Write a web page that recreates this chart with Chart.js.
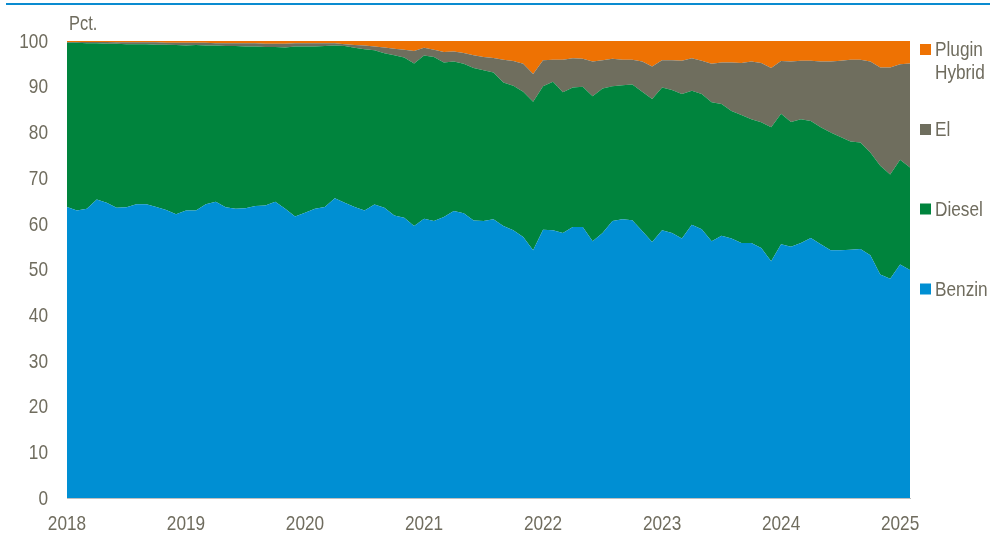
<!DOCTYPE html>
<html>
<head>
<meta charset="utf-8">
<script src="https://cdn.jsdelivr.net/npm/chart.js@4.4.1/dist/chart.umd.min.js"></script>
<style>
  html, body { margin: 0; padding: 0; background: #ffffff; }
  #wrap { position: relative; width: 990px; height: 534px; }
</style>
</head>
<body>
<div id="wrap"><canvas id="c"></canvas></div>
<script>
// ---- Data (monthly shares, pct.) ----
const startYear = 2018;
const monthCount = 86; // Jan 2018 .. Feb 2025
const yearLabels = ['2018', '2019', '2020', '2021', '2022', '2023', '2024', '2025'];
const yTickValues = [0, 10, 20, 30, 40, 50, 60, 70, 80, 90, 100];
const seriesNames = ['Benzin', 'Diesel', 'El', 'Plugin Hybrid'];

const benzin = [
  63.7, 62.9, 63.3, 65.3, 64.6, 63.5, 63.6, 64.3, 64.3, 63.7, 63.0, 62.1,
  62.9, 62.9, 64.3, 64.8, 63.6, 63.3, 63.4, 63.9, 64.0, 64.8, 63.3, 61.6,
  62.4, 63.3, 63.7, 65.6, 64.6, 63.7, 62.9, 64.2, 63.5, 61.8, 61.3, 59.5,
  61.1, 60.6, 61.5, 62.8, 62.3, 60.7, 60.6, 61.0, 59.5, 58.6, 57.1, 54.2,
  58.7, 58.6, 58.0, 59.3, 59.3, 56.2, 58.0, 60.6, 61.0, 60.8, 58.4, 56.0,
  58.6, 58.0, 56.8, 59.8, 58.8, 56.2, 57.4, 56.8, 55.8, 55.8, 54.7, 51.8,
  55.5, 55.0, 55.8, 56.9, 55.5, 54.2, 54.2, 54.3, 54.5, 53.1, 48.9, 48.0,
  51.1, 49.9
];
const diesel = [
  35.9, 36.7, 36.2, 34.2, 34.8, 35.9, 35.7, 35.0, 35.0, 35.5, 36.2, 37.0,
  36.1, 36.2, 34.7, 34.2, 35.3, 35.6, 35.4, 34.9, 34.7, 33.9, 35.3, 37.2,
  36.4, 35.5, 35.2, 33.4, 34.3, 34.8, 35.3, 33.8, 33.8, 35.1, 35.1, 35.6,
  35.7, 35.9, 33.8, 32.7, 32.7, 33.4, 33.0, 32.1, 31.4, 31.6, 31.8, 32.5,
  31.4, 32.5, 30.8, 30.5, 30.7, 31.7, 31.6, 29.5, 29.3, 29.7, 30.5, 31.3,
  31.2, 31.3, 31.6, 29.3, 29.6, 30.4, 28.8, 27.9, 28.0, 27.1, 27.5, 29.3,
  28.6, 27.3, 27.1, 25.6, 25.6, 25.8, 24.8, 23.7, 23.3, 22.5, 23.8, 22.8,
  22.9, 22.4
];
const el = [
  0.2, 0.2, 0.3, 0.3, 0.4, 0.3, 0.4, 0.4, 0.4, 0.5, 0.4, 0.5,
  0.6, 0.5, 0.6, 0.5, 0.6, 0.6, 0.7, 0.7, 0.7, 0.7, 0.8, 0.7,
  0.7, 0.7, 0.6, 0.5, 0.4, 0.6, 0.8, 0.8, 1.3, 1.4, 1.7, 2.7,
  1.7, 1.6, 2.3, 2.2, 2.4, 2.8, 2.9, 3.2, 5.0, 5.4, 6.1, 6.1,
  5.7, 4.8, 7.1, 6.4, 6.1, 7.6, 6.2, 6.0, 5.6, 5.4, 6.6, 7.1,
  6.0, 6.5, 7.3, 7.1, 7.3, 8.4, 9.1, 10.6, 11.4, 12.6, 13.0, 13.0,
  11.5, 13.2, 12.8, 13.2, 14.4, 15.5, 16.7, 17.9, 18.1, 19.9, 21.5, 23.4,
  20.9, 22.8
];
const pluginHybrid = [
  0.2, 0.2, 0.2, 0.2, 0.2, 0.3, 0.3, 0.3, 0.3, 0.3, 0.4, 0.4,
  0.4, 0.4, 0.4, 0.5, 0.5, 0.5, 0.5, 0.5, 0.6, 0.6, 0.6, 0.5,
  0.5, 0.5, 0.5, 0.5, 0.7, 0.9, 1.0, 1.2, 1.4, 1.7, 1.9, 2.2,
  1.5, 1.9, 2.4, 2.3, 2.6, 3.1, 3.5, 3.7, 4.1, 4.4, 5.0, 7.2,
  4.2, 4.1, 4.1, 3.8, 3.9, 4.5, 4.2, 3.9, 4.1, 4.1, 4.5, 5.6,
  4.2, 4.2, 4.3, 3.8, 4.3, 5.0, 4.7, 4.7, 4.8, 4.5, 4.8, 5.9,
  4.4, 4.5, 4.3, 4.3, 4.5, 4.5, 4.3, 4.1, 4.1, 4.5, 5.8, 5.8,
  5.1, 4.9
];

// categories: one per month
const months = [];
for (let i = 0; i < monthCount; i++) {
  const y = startYear + Math.floor(i / 12);
  const m = (i % 12) + 1;
  months.push(y + '-' + String(m).padStart(2, '0'));
}

// ---- Style ----
const FONT = "'Liberation Sans', Arial, sans-serif";
const NARROW = 0.82; // horizontal squeeze to mimic a narrow face
const TEXT = '#6f6c5e';
const colors = ['#008fd3', '#00843d', '#6f6e5e', '#ee7203'];

function drawText(ctx, t, x, y, align, baseline, size) {
  ctx.save();
  ctx.font = size + 'px ' + FONT;
  ctx.textBaseline = baseline;
  ctx.textAlign = 'left';
  const w = ctx.measureText(t).width * NARROW;
  const x0 = align === 'right' ? x - w : (align === 'center' ? x - w / 2 : x);
  ctx.translate(x0, y);
  ctx.scale(NARROW, 1);
  ctx.fillText(t, 0, 0);
  ctx.restore();
}

const extras = {
  id: 'extras',
  afterDraw(chart) {
    const ctx = chart.ctx;
    const ca = chart.chartArea;
    const xs = chart.scales.x, ys = chart.scales.y;
    ctx.save();
    // top rule
    ctx.fillStyle = '#0a8bd0';
    ctx.fillRect(6, 3, 984, 2);
    ctx.fillStyle = TEXT;
    // unit label
    drawText(ctx, 'Pct.', ca.left + 2, 30, 'left', 'alphabetic', 20);
    // y tick labels
    yTickValues.forEach(v => drawText(ctx, String(v), ca.left - 19, ys.getPixelForValue(v) + 1, 'right', 'middle', 21));
    // x tick labels (January of each year)
    yearLabels.forEach((t, k) => drawText(ctx, t, xs.getPixelForValue(k * 12), ca.bottom + 26, 'center', 'middle', 21));
    // legend
    const lx = ca.right + 10;
    const items = [
      { c: colors[3], lines: ['Plugin', 'Hybrid'], y: 49.5 },
      { c: colors[2], lines: ['El'], y: 129.5 },
      { c: colors[1], lines: ['Diesel'], y: 209 },
      { c: colors[0], lines: ['Benzin'], y: 289 }
    ];
    items.forEach(it => {
      ctx.fillStyle = it.c;
      ctx.fillRect(lx, it.y - 5.5, 11, 11);
      ctx.fillStyle = TEXT;
      it.lines.forEach((t, k) => drawText(ctx, t, lx + 15, it.y + 1 + k * 23, 'left', 'middle', 21));
    });
    ctx.restore();
  }
};

const sets = [benzin, diesel, el, pluginHybrid].map((d, k) => ({
  label: seriesNames[k],
  data: d,
  backgroundColor: colors[k],
  borderColor: colors[k],
  borderWidth: 0,
  pointRadius: 0,
  tension: 0,
  fill: k === 0 ? 'origin' : '-1'
}));

new Chart(document.getElementById('c'), {
  type: 'line',
  data: { labels: months, datasets: sets },
  options: {
    responsive: true,
    maintainAspectRatio: false,
    animation: false,
    layout: { padding: { left: 67, right: 80, top: 41, bottom: 36 } },
    plugins: { legend: { display: false }, tooltip: { enabled: false } },
    scales: {
      x: {
        offset: false,
        grid: { display: false, drawTicks: false },
        border: { display: true, color: '#bfbfbf', width: 1 },
        ticks: { display: false }
      },
      y: {
        stacked: true,
        min: 0,
        max: 100,
        grid: { color: '#d9d9d9', drawTicks: false },
        border: { display: false },
        ticks: { display: false, stepSize: 10 }
      }
    }
  },
  plugins: [extras]
});
</script>
</body>
</html>
